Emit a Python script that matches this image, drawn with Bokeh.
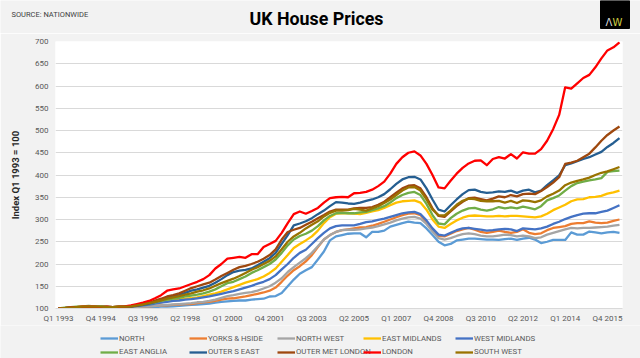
from bokeh.plotting import figure
from bokeh.models import Range1d, FixedTicker, Legend, LegendItem
from bokeh.layouts import column
from bokeh.core.properties import value
from bokeh.embed import file_html
from bokeh.resources import INLINE

# ---------------- data (Nationwide regional index, Q1 1993 = 100) ----------------
YEARS = list(range(1993, 2017))
QUARTERS = [f"Q{q} {y}" for y in YEARS for q in (1, 2, 3, 4)][:94]

NORTH = [100,100,101,101, 102,101,102,101, 101,100,101,100, 101,101,102,103, 103,104,104,105,
         106,107,108,109, 110,111,113,115, 116,117,118,118, 120,121,122,127, 128,135,150,165,
         178,186,193,210, 228,253,262,265, 268,269,269,260, 272,272,275,284, 288,292,295,293,
         292,280,265,250, 242,245,253,255, 257,257,256,255, 255,254,256,257, 254,257,259,255,
         247,250,254,254, 254,271,266,266, 273,271,269,271, 272,270]
YORKS = [100,101,102,102, 103,102,103,102, 102,101,102,101, 102,103,104,105, 106,107,107,108,
         109,110,110,112, 114,115,117,120, 122,123,125,127, 130,133,136,140, 147,160,174,186,
         195,206,220,238, 255,265,272,276, 278,280,282,283, 286,290,295,300, 305,310,313,314,
         310,295,278,263, 262,268,274,278, 281,277,272,270, 272,275,272,270, 272,278,270,267,
         269,276,281,283, 285,290,292,292, 296,293,292,293, 297,300]
NORTH_WEST = [100,101,101,102, 102,102,103,102, 102,101,102,102, 103,103,104,105, 106,107,108,109,
              110,111,112,114, 115,117,120,124, 128,130,133,135, 137,140,145,150, 158,168,182,193,
              203,213,225,240, 255,265,272,276, 277,277,278,280, 282,285,289,293, 298,302,305,306,
              302,290,273,258, 255,258,263,267, 269,267,264,262, 262,264,266,265, 262,264,262,258,
              260,266,270,274, 278,281,280,281, 281,282,283,284, 286,288]
EAST_MIDLANDS = [100,101,102,103, 104,104,104,104, 104,103,104,104, 105,106,108,110, 112,114,117,118,
                 120,122,123,125, 128,131,134,138, 143,148,153,158, 162,166,172,180, 190,205,220,236,
                 245,253,262,275, 292,305,313,314, 314,313,312,315, 318,321,326,332, 338,341,342,343,
                 338,322,300,284, 281,290,298,304, 308,309,308,307, 307,308,307,308, 308,307,306,305,
                 307,313,321,327, 333,341,345,346, 350,351,353,358, 361,365]
WEST_MIDLANDS = [100,101,102,103, 103,104,104,104, 104,103,104,104, 105,106,107,109, 111,113,115,117,
                 118,120,121,123, 125,127,130,133, 136,139,143,147, 151,156,160,166, 175,188,200,214,
                 225,232,245,258, 270,280,285,287, 287,287,290,294, 296,299,302,306, 310,314,316,317,
                 312,298,280,266, 264,270,276,280, 281,279,277,275, 276,278,279,278, 274,280,279,278,
                 280,284,290,295, 301,306,310,313, 314,314,317,320, 326,332]
EAST_ANGLIA = [100,102,103,104, 105,106,105,105, 104,103,104,104, 105,107,109,111, 114,117,120,122,
               124,127,129,131, 134,138,143,150, 157,160,166,172, 180,186,193,200, 210,225,242,255,
               263,268,275,285, 298,308,314,315, 314,314,316,317, 321,325,330,338, 348,355,360,362,
               355,335,310,291, 289,303,313,320, 325,326,322,320, 323,328,325,327, 325,329,326,323,
               330,343,348,354, 365,375,382,385, 388,390,393,407, 409,410]
OUTER_S_EAST = [100,101,102,102, 103,103,103,102, 102,102,103,103, 104,106,108,111, 115,119,124,127,
                130,135,140,143, 147,151,158,166, 175,182,185,187, 190,197,205,213, 225,245,265,287,
                291,296,303,312, 320,330,339,338, 336,335,338,342, 345,350,357,368, 380,390,395,396,
                390,370,345,322, 318,332,345,357, 366,367,362,360, 361,363,362,365, 360,365,367,361,
                365,377,388,399, 422,426,431,436, 440,446,452,463, 472,483]
OUTER_MET_LONDON = [100,101,102,102, 103,103,103,102, 102,102,103,104, 105,107,110,113, 118,122,127,130,
                    134,140,146,150, 154,158,165,173, 180,187,193,196, 200,205,212,220, 233,255,272,277,
                    281,288,295,303, 310,318,322,322, 322,325,326,326, 328,333,340,350, 360,370,376,377,
                    370,350,325,308, 306,318,330,340, 348,349,346,343, 347,352,350,355, 352,357,358,357,
                    364,373,383,395, 425,428,432,440, 448,462,477,490, 500,509]
LONDON = [100,101,102,103, 104,104,104,103, 104,103,104,105, 107,110,113,117, 123,130,140,143,
          145,150,155,160, 166,175,190,200, 212,214,216,214, 222,222,238,245, 252,270,292,312,
          318,313,319,326, 338,348,350,351, 350,359,360,362, 367,375,385,403, 425,440,450,453,
          444,425,400,372, 370,387,403,416, 426,432,433,422, 436,440,437,447, 437,451,448,448,
          458,477,503,535, 597,594,606,618, 625,642,662,680, 687,698]
SOUTH_WEST = [100,101,102,103, 104,104,104,104, 103,103,104,104, 105,107,109,112, 115,118,122,125,
              128,131,134,138, 141,145,151,157, 162,167,173,180, 187,193,200,207, 217,233,250,262,
              270,280,288,296, 307,315,320,320, 321,324,322,320, 325,330,337,345, 355,365,372,373,
              365,345,322,310, 309,320,333,342, 347,346,342,341, 341,342,338,342, 337,343,342,339,
              343,352,358,365, 377,383,387,390, 394,400,405,408, 413,418]

SERIES_NAMES = ["NORTH", "YORKS & HSIDE", "NORTH WEST", "EAST MIDLANDS", "WEST MIDLANDS",
                "EAST ANGLIA", "OUTER S EAST", "OUTER MET LONDON", "LONDON", "SOUTH WEST"]
SERIES_VALUES = [NORTH, YORKS, NORTH_WEST, EAST_MIDLANDS, WEST_MIDLANDS,
                 EAST_ANGLIA, OUTER_S_EAST, OUTER_MET_LONDON, LONDON, SOUTH_WEST]
SERIES_COLORS = ["#5B9BD5", "#ED7D31", "#A5A5A5", "#FFC000", "#4472C4",
                 "#70AD47", "#255E91", "#9E480E", "#FF0000", "#997300"]

TITLE = "UK House Prices"
SOURCE = "SOURCE: NATIONWIDE"
Y_TITLE = "Index Q1 1993 = 100"
Y_TICKS = list(range(100, 701, 50))
TICK_STEP = 7

FONT = "Roboto"
LABEL_COLOR = "#595959"
BG = "#F2F2F2"
W = 640
TOTAL_H = 358
HEAD_H = 33
MAIN_H = 292
LEG_H = TOTAL_H - HEAD_H - MAIN_H


def bare_figure(h):
    f = figure(width=W, height=h, output_backend="svg", toolbar_location=None,
               x_range=Range1d(0, W), y_range=Range1d(0, h),
               x_axis_location=None, y_axis_location=None, title=None,
               min_border=0, min_border_left=0, min_border_right=0,
               min_border_top=0, min_border_bottom=0, frame_align=False)
    f.grid.visible = False
    f.outline_line_color = None
    f.background_fill_color = BG
    f.border_fill_color = BG
    return f


# ---------------- header (title, source, logo) ----------------
head = bare_figure(HEAD_H)
head.text(x=[316], y=[15], text=[TITLE], text_font=value(FONT), text_font_style="bold",
          text_font_size="17.8px", text_color="#000000", text_align="center",
          text_baseline="middle")
head.text(x=[11], y=[19], text=[SOURCE], text_font=value(FONT), text_font_size="7.5px",
          text_color="#404040", text_align="left", text_baseline="middle")
head.quad(left=[600], right=[629], bottom=[5], top=[HEAD_H], fill_color="#000000",
          line_color="#000000")
head.text(x=[608.5], y=[11], text=["Λ"], text_font=value("DejaVu Sans"), text_font_size="10px",
          text_color="#D9D9D9", text_align="center", text_baseline="middle")
head.text(x=[617], y=[11], text=["W"], text_font=value("DejaVu Sans"), text_font_size="10px",
          text_color="#CFCF40", text_align="center", text_baseline="middle")

# ---------------- main chart ----------------
X = list(range(len(QUARTERS)))
p = figure(width=W, height=MAIN_H, output_backend="svg", toolbar_location=None,
           x_range=Range1d(-0.5, len(QUARTERS) - 0.5), y_range=Range1d(100, 700),
           min_border_left=55, min_border_right=18, min_border_top=8, min_border_bottom=17,
           frame_align=False)
p.background_fill_color = "white"
p.border_fill_color = BG
p.outline_line_color = None

for name, vals, col in zip(SERIES_NAMES, SERIES_VALUES, SERIES_COLORS):
    p.line(X, vals, line_color=col, line_width=2.3, line_join="round")

tick_pos = X[::TICK_STEP]
p.xaxis.ticker = FixedTicker(ticks=tick_pos)
p.xaxis.major_label_overrides = {i: QUARTERS[i] for i in tick_pos}
p.yaxis.ticker = FixedTicker(ticks=Y_TICKS)
for ax in (p.xaxis, p.yaxis):
    ax.major_tick_line_color = None
    ax.minor_tick_line_color = None
    ax.major_tick_out = 0
    ax.major_tick_in = 0
    ax.major_label_text_font = FONT
    ax.major_label_text_font_size = "8px"
    ax.major_label_text_color = LABEL_COLOR
p.xaxis.axis_line_color = "#D9D9D9"
p.yaxis.axis_line_color = None
p.xaxis.major_label_standoff = 5
p.yaxis.major_label_standoff = 7
p.yaxis.axis_label = Y_TITLE
p.yaxis.axis_label_text_font = FONT
p.yaxis.axis_label_text_font_style = "bold"
p.yaxis.axis_label_text_font_size = "9.5px"
p.yaxis.axis_label_text_color = "#262626"
p.yaxis.axis_label_standoff = 11

p.xgrid.grid_line_color = None
p.ygrid.grid_line_color = "#D9D9D9"
p.ygrid.grid_line_width = 1

# ---------------- legend strip (2 rows x 5 uniform columns) ----------------
lg = bare_figure(LEG_H)
LEG_X = [100, 189, 277, 363, 455]
LEG_Y = [15, 1.3]
for i, (name, col) in enumerate(zip(SERIES_NAMES, SERIES_COLORS)):
    row, c = divmod(i, 5)
    # off-screen stand-in so the legend can draw the series' line swatch
    r = lg.line(x=[-20, -10], y=[-20, -20], line_color=col, line_width=2.3)
    leg = Legend(items=[LegendItem(label=name, renderers=[r])],
                 location=(LEG_X[c], LEG_Y[row]), orientation="horizontal",
                 padding=0, margin=0, spacing=0, glyph_width=18, glyph_height=10,
                 label_height=10, label_standoff=1, label_text_font=FONT,
                 label_text_font_size="7.8px", label_text_color=LABEL_COLOR,
                 background_fill_alpha=0, border_line_color=None)
    lg.add_layout(leg)

layout = column(head, p, lg, spacing=0)
open("out.html", "w").write(file_html(layout, INLINE))
